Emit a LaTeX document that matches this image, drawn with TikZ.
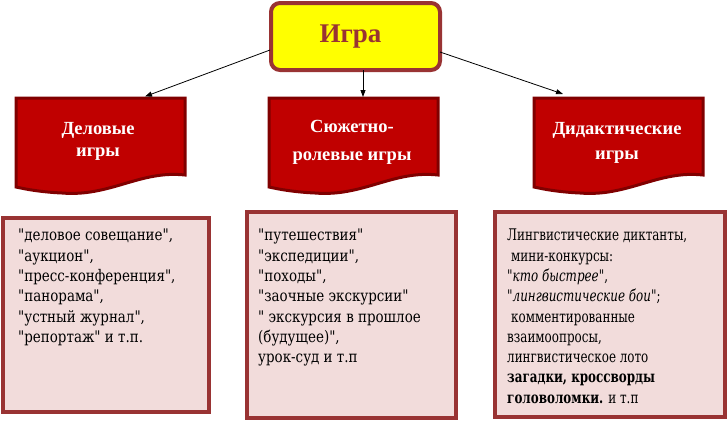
\documentclass[tikz,border=0pt]{standalone}
\usepackage{fontspec}
\setmainfont{Liberation Serif}
\newfontfamily\boxfont[FakeStretch=0.84]{DejaVu Serif}
\newfontfamily\boxfontn[FakeStretch=0.745]{DejaVu Serif}
\usetikzlibrary{arrows.meta,calc}
\definecolor{brd}{HTML}{993333}
\definecolor{docfill}{HTML}{C00000}
\definecolor{docbrd}{HTML}{800000}
\definecolor{pinkfill}{HTML}{F2DCDB}
\definecolor{yel}{HTML}{FFFF00}
\tikzset{
  igrabox/.style={draw=brd, line width=4pt, fill=yel, rounded corners=9pt,
    minimum width=169pt, minimum height=67pt, inner sep=0pt,
    font=\fontsize{27}{30}\selectfont\bfseries, text=brd},
  docshape/.style={draw=docbrd, line width=3pt, fill=docfill},
  doctitle/.style={align=center, text=white, inner sep=0pt,
    font=\fontsize{18.5}{22}\selectfont\bfseries},
  listbox/.style={draw=brd, line width=3.5pt, fill=pinkfill, inner sep=0pt},
  listtext/.style={anchor=north west, align=left, inner sep=0pt,
    font=\boxfont\fontsize{16}{20.3}\selectfont},
  listtextn/.style={listtext, font=\boxfontn\fontsize{16}{20.3}\selectfont},
  conn/.style={draw=black, line width=0.8pt, -{Triangle[length=7pt,width=5pt]}}
}
\begin{document}
\begin{tikzpicture}[x=1pt,y=-1pt]
\useasboundingbox (0,0) rectangle (727,421);
% top node
\node[igrabox] (igra) at (355.5,36.5) {Игра\hspace*{10pt}};
% document shapes
\foreach \xo in {16,269,534}{
  \begin{scope}[shift={(\xo,0)}]
    \draw[docshape] (0,98) -- (169,98) -- (169,175)
      .. controls (124,170) and (94,197) .. (46,193)
      .. controls (24,192) and (9,189) .. (0,187) -- cycle;
  \end{scope}
}
\node[doctitle] (t1) at (98,141) {Деловые\\игры};
\node[doctitle, font=\fontsize{18.5}{28}\selectfont\bfseries] (t2) at (352,142) {Сюжетно-\\ролевые игры};
\node[doctitle, font=\fontsize{18.5}{25}\selectfont\bfseries] (t3) at (617,142.5) {Дидактические\\игры};
% arrow end points
\coordinate (s1) at (270,50);
\coordinate (s2) at (363,70);
\coordinate (s3) at (440,52);
\coordinate (e1) at (145,96.5);
\coordinate (e2) at (363,97);
\coordinate (e3) at (563,94);
\draw[conn] (s1) -- (e1);
\draw[conn] (s2) -- (e2);
\draw[conn] (s3) -- (e3);
% list boxes
\node[listbox, minimum width=206pt, minimum height=194pt] (b1) at (106,315) {};
\node[listbox, minimum width=209pt, minimum height=206pt] (b2) at (351.5,315) {};
\node[listbox, minimum width=230pt, minimum height=205pt] (b3) at (610,314.5) {};
\node[listtext] (l1) at (18,229) {"деловое совещание",\\"аукцион",\\"пресс-конференция",\\"панорама",\\"устный журнал",\\"репортаж" и т.п.};
\node[listtext] (l2) at (258,229) {"путешествия"\\"экспедиции",\\"походы",\\"заочные экскурсии"\\" экскурсия в прошлое\\(будущее)",\\урок-суд и т.п};
\node[listtextn] (l3) at (507,229) {Лингвистические диктанты,\\\hspace*{4pt}мини-конкурсы:\\"\textit{кто быстрее}",\\"\textit{лингвистические бои}";\\\hspace*{4pt}комментированные\\взаимоопросы,\\лингвистическое лото\\\textbf{загадки, кроссворды}\\\textbf{головоломки.} и т.п};
\end{tikzpicture}
\end{document}
